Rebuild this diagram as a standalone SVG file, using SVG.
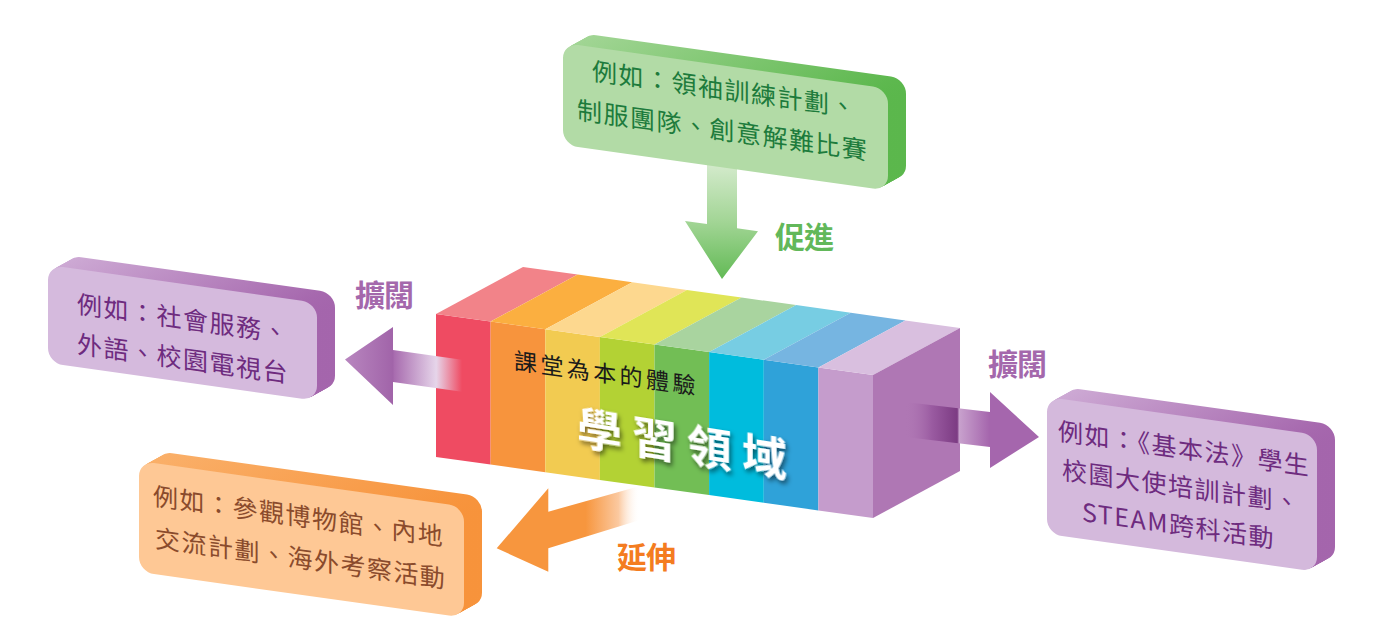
<svg xmlns="http://www.w3.org/2000/svg" width="1385" height="640" viewBox="0 0 1385 640">
<style>
  .bt { font-family: 'Noto Sans CJK TC','Noto Sans CJK SC','Noto Sans',sans-serif; font-size: 25px; letter-spacing: 1.5px; }
  .lbl { font-family: 'Noto Sans CJK TC','Noto Sans CJK SC',sans-serif; font-size: 30px; font-weight: bold; letter-spacing: -1px; }
  .sub { font-family: 'Noto Sans CJK TC','Noto Sans CJK SC',sans-serif; font-size: 23px; letter-spacing: 3.4px; fill: #1a1a1a; }
  .title { font-family: 'Noto Sans CJK TC','Noto Sans CJK SC',sans-serif; font-size: 45px; font-weight: bold; letter-spacing: 10px; fill: #ffffff; }
</style>
<defs>
  <rect id="bxG" width="325" height="102" rx="15"/>
  <rect id="bxL" width="269" height="98" rx="15"/>
  <rect id="bxR" width="270" height="137" rx="15"/>
  <rect id="bxO" width="325" height="111" rx="15"/>
  <linearGradient id="sG"><stop offset="0" stop-color="#A3D696"/><stop offset="1" stop-color="#5BB74C"/></linearGradient>
  <linearGradient id="sP"><stop offset="0" stop-color="#CEABD5"/><stop offset="1" stop-color="#A465AC"/></linearGradient>
  <linearGradient id="sO"><stop offset="0" stop-color="#FAB06A"/><stop offset="1" stop-color="#F7933B"/></linearGradient>
  <linearGradient id="aG" gradientUnits="userSpaceOnUse" x1="0" y1="165" x2="0" y2="279">
    <stop offset="0" stop-color="#D3EACB"/><stop offset="0.5" stop-color="#A2D595"/><stop offset="1" stop-color="#62BA55"/>
  </linearGradient>
  <linearGradient id="aL" gradientUnits="userSpaceOnUse" x1="345" y1="0" x2="462" y2="0">
    <stop offset="0" stop-color="#B886BF"/><stop offset="0.41" stop-color="#A164A9"/><stop offset="0.42" stop-color="#A86CAF"/>
    <stop offset="0.78" stop-color="#E6D5EA"/><stop offset="1" stop-color="#E6D5EA" stop-opacity="0"/>
  </linearGradient>
  <linearGradient id="aR" gradientUnits="userSpaceOnUse" x1="905" y1="0" x2="1039" y2="0">
    <stop offset="0" stop-color="#AF77B4" stop-opacity="0"/><stop offset="0.2" stop-color="#9A5BA1"/>
    <stop offset="0.39" stop-color="#7C3B83"/><stop offset="0.405" stop-color="#C8A1CD"/>
    <stop offset="0.63" stop-color="#A566AD"/><stop offset="1" stop-color="#A566AD"/>
  </linearGradient>
  <linearGradient id="aO" gradientUnits="userSpaceOnUse" x1="497" y1="0" x2="640" y2="0">
    <stop offset="0" stop-color="#F7963E"/><stop offset="0.62" stop-color="#F7963E"/>
    <stop offset="0.85" stop-color="#FBC9A0"/><stop offset="1" stop-color="#FFFFFF" stop-opacity="0"/>
  </linearGradient>
  <filter id="sh" x="-20%" y="-30%" width="140%" height="160%">
    <feDropShadow dx="2" dy="3" stdDeviation="2.5" flood-color="#000" flood-opacity="0.55"/>
  </filter>
</defs>

<!-- central block -->
<g id="block">
  <g id="block-front">
    <polygon fill="#EF4B62" points="436,314 490.6,321.6 490.6,464.6 436,457"/>
    <polygon fill="#F7943D" points="490.6,321.6 545.3,329.3 545.3,472.3 490.6,464.6"/>
    <polygon fill="#F2CB51" points="545.3,329.3 599.9,336.9 599.9,479.9 545.3,472.3"/>
    <polygon fill="#B3D234" points="599.9,336.9 654.5,344.5 654.5,487.5 599.9,479.9"/>
    <polygon fill="#72BE55" points="654.5,344.5 709.1,352.1 709.1,495.1 654.5,487.5"/>
    <polygon fill="#00BCDD" points="709.1,352.1 763.8,359.8 763.8,502.8 709.1,495.1"/>
    <polygon fill="#2FA2D9" points="763.8,359.8 818.4,367.4 818.4,510.4 763.8,502.8"/>
    <polygon fill="#C59CCC" points="818.4,367.4 873,375 873,518 818.4,510.4"/>
  </g>
  <g id="block-top">
    <polygon fill="#F28389" points="436,314 490.6,321.6 577.6,274.6 523,267"/>
    <polygon fill="#FBAF40" points="490.6,321.6 545.3,329.3 632.3,282.3 577.6,274.6"/>
    <polygon fill="#FDD88F" points="545.3,329.3 599.9,336.9 686.9,289.9 632.3,282.3"/>
    <polygon fill="#E0E557" points="599.9,336.9 654.5,344.5 741.5,297.5 686.9,289.9"/>
    <polygon fill="#A9D49F" points="654.5,344.5 709.1,352.1 796.1,305.1 741.5,297.5"/>
    <polygon fill="#77CDE3" points="709.1,352.1 763.8,359.8 850.8,312.8 796.1,305.1"/>
    <polygon fill="#76B5E1" points="763.8,359.8 818.4,367.4 905.4,320.4 850.8,312.8"/>
    <polygon fill="#D9BFDF" points="818.4,367.4 873,375 960,328 905.4,320.4"/>
  </g>
  <polygon id="block-side" fill="#AF77B4" points="873,375 960,328 960,471 873,518"/>
  <g transform="translate(514,369) skewY(8)"><text class="sub" x="0" y="0">課堂為本的體驗</text></g>
  <g transform="translate(577,444) skewY(9)"><text class="title" x="0" y="0" filter="url(#sh)">學習領域</text></g>
</g>

<!-- connectors -->
<g id="connectors">
  <polygon id="arrow-down" fill="url(#aG)" points="707,160 737,164 737,228.3 758,231.2 722,279 685,221 707,224.1"/>
  <polygon id="arrow-left" fill="url(#aL)" points="345,359.5 393,327 393,350 462,359.7 462,391.7 393,382 393,405"/>
  <polygon id="arrow-right" fill="url(#aR)" points="905,402 990,412 990,392 1039,437 990,468 990,447 905,437"/>
  <polygon id="arrow-extend" fill="url(#aO)" points="496.7,548.3 548.3,488.3 548.3,511.7 640,486 640,520 548.3,548.3 548.3,571.7"/>
  <text class="lbl" x="775" y="248" fill="#62B85A">促進</text>
  <text class="lbl" x="355" y="306" fill="#A468AC">擴闊</text>
  <text class="lbl" x="988" y="375" fill="#A468AC">擴闊</text>
  <text class="lbl" x="617" y="568" fill="#F47C20">延伸</text>
</g>

<!-- green box -->
<g id="box-green" transform="translate(563,43) skewY(8)">
  <g fill="url(#sG)">
    <use href="#bxG" x="18" y="-12.5"/><use href="#bxG" x="16.5" y="-11.46"/><use href="#bxG" x="15" y="-10.42"/>
    <use href="#bxG" x="13.5" y="-9.38"/><use href="#bxG" x="12" y="-8.33"/><use href="#bxG" x="10.5" y="-7.29"/>
    <use href="#bxG" x="9" y="-6.25"/><use href="#bxG" x="7.5" y="-5.21"/><use href="#bxG" x="6" y="-4.17"/>
    <use href="#bxG" x="4.5" y="-3.13"/><use href="#bxG" x="3" y="-2.08"/><use href="#bxG" x="1.5" y="-1.04"/>
  </g>
  <use href="#bxG" fill="#B2DBA6"/>
  <text class="bt" fill="#1D7B3C"><tspan x="29" y="33">例如：領袖訓練計劃、</tspan><tspan x="14" y="74">制服團隊、創意解難比賽</tspan></text>
</g>

<!-- left purple box -->
<g id="box-left" transform="translate(48,265) skewY(8)">
  <g fill="url(#sP)">
    <use href="#bxL" x="18" y="-12.5"/><use href="#bxL" x="16.5" y="-11.46"/><use href="#bxL" x="15" y="-10.42"/>
    <use href="#bxL" x="13.5" y="-9.38"/><use href="#bxL" x="12" y="-8.33"/><use href="#bxL" x="10.5" y="-7.29"/>
    <use href="#bxL" x="9" y="-6.25"/><use href="#bxL" x="7.5" y="-5.21"/><use href="#bxL" x="6" y="-4.17"/>
    <use href="#bxL" x="4.5" y="-3.13"/><use href="#bxL" x="3" y="-2.08"/><use href="#bxL" x="1.5" y="-1.04"/>
  </g>
  <use href="#bxL" fill="#D5BADD"/>
  <text class="bt" fill="#6E2B7F"><tspan x="29" y="44">例如：社會服務、</tspan><tspan x="29" y="84">外語、校園電視台</tspan></text>
</g>

<!-- right purple box -->
<g id="box-right" transform="translate(1047,397) skewY(8)">
  <g fill="url(#sP)">
    <use href="#bxR" x="18" y="-12.5"/><use href="#bxR" x="16.5" y="-11.46"/><use href="#bxR" x="15" y="-10.42"/>
    <use href="#bxR" x="13.5" y="-9.38"/><use href="#bxR" x="12" y="-8.33"/><use href="#bxR" x="10.5" y="-7.29"/>
    <use href="#bxR" x="9" y="-6.25"/><use href="#bxR" x="7.5" y="-5.21"/><use href="#bxR" x="6" y="-4.17"/>
    <use href="#bxR" x="4.5" y="-3.13"/><use href="#bxR" x="3" y="-2.08"/><use href="#bxR" x="1.5" y="-1.04"/>
  </g>
  <use href="#bxR" fill="#D4B9DC"/>
  <text class="bt" fill="#6E2B7F"><tspan x="11" y="41.5">例如：《基本法》學生</tspan><tspan x="15" y="80">校園大使培訓計劃、</tspan><tspan x="35" y="119">STEAM跨科活動</tspan></text>
</g>

<!-- orange box -->
<g id="box-orange" transform="translate(139,461) skewY(8)">
  <g fill="url(#sO)">
    <use href="#bxO" x="18" y="-12.5"/><use href="#bxO" x="16.5" y="-11.46"/><use href="#bxO" x="15" y="-10.42"/>
    <use href="#bxO" x="13.5" y="-9.38"/><use href="#bxO" x="12" y="-8.33"/><use href="#bxO" x="10.5" y="-7.29"/>
    <use href="#bxO" x="9" y="-6.25"/><use href="#bxO" x="7.5" y="-5.21"/><use href="#bxO" x="6" y="-4.17"/>
    <use href="#bxO" x="4.5" y="-3.13"/><use href="#bxO" x="3" y="-2.08"/><use href="#bxO" x="1.5" y="-1.04"/>
  </g>
  <use href="#bxO" fill="#FEC895"/>
  <text class="bt" fill="#8A4B2C"><tspan x="14" y="42">例如：參觀博物館、內地</tspan><tspan x="16" y="84">交流計劃、海外考察活動</tspan></text>
</g>
</svg>
